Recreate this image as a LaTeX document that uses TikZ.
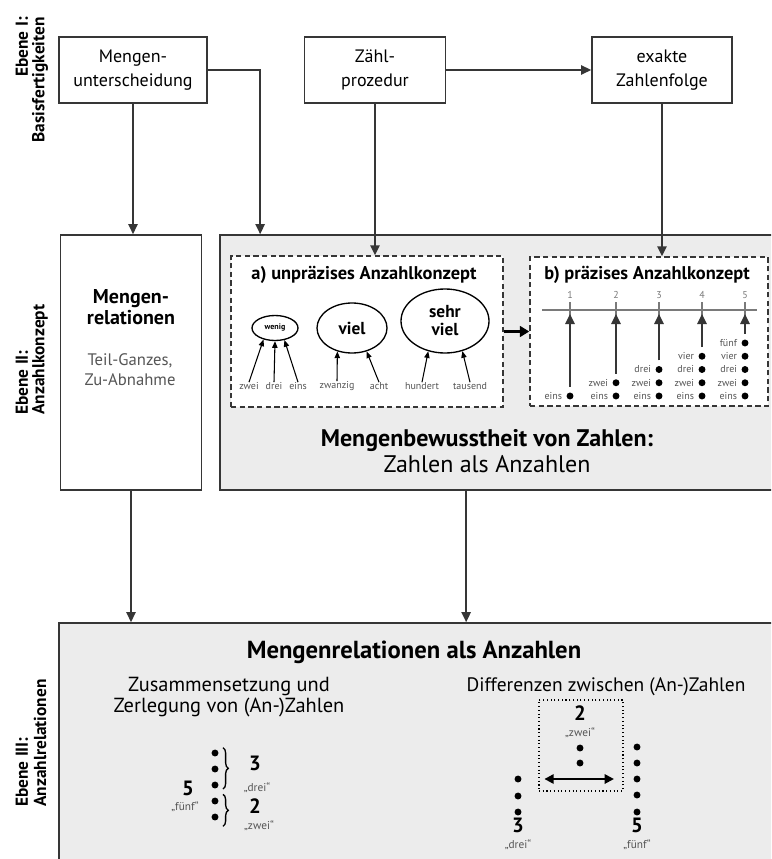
\documentclass[tikz,border=0pt]{standalone}
\usepackage{fontspec}
\setmainfont{PT Sans}
\usetikzlibrary{arrows.meta,shapes.geometric,decorations.pathreplacing}
\definecolor{boxLine}{HTML}{363636}
\definecolor{boxFill}{HTML}{ECECEC}
\definecolor{lblGray}{HTML}{555555}
\definecolor{axisGray}{HTML}{7A7A7A}
\newcommand{\fsz}[2]{\fontsize{#1}{#2}\selectfont}

\begin{document}
\begin{tikzpicture}[x=0.75pt,y=-0.75pt,
  every node/.style={inner sep=0pt},
  plainbox/.style={draw=boxLine,line width=1.3pt,fill=white,align=center,font=\fsz{13.5}{18.5}},
  graybox/.style={draw=boxLine,line width=1.3pt,fill=boxFill},
  dashbox/.style={draw=boxLine,line width=1.1pt,dash pattern=on 4pt off 2.5pt,fill=white},
  arr/.style={line width=1.2pt,draw=boxLine,-{Triangle[width=7pt,length=7.5pt]}},
  thickarr/.style={line width=2pt,draw=black,-{Triangle[width=8pt,length=7pt]}},
  smallarr/.style={line width=0.8pt,-{Triangle[width=4pt,length=5pt]}},
  dblarr/.style={line width=1.6pt,{Triangle[width=7pt,length=7pt]}-{Triangle[width=7pt,length=7pt]}},
  ebene/.style={rotate=90,font=\bfseries\fsz{13}{15}},
  oval/.style={ellipse,draw=black,line width=1pt,align=center},
  tinylbl/.style={font=\fsz{7.5}{9},text=lblGray},
  numlbl/.style={font=\fsz{7.5}{9},text=axisGray},
  dotlbl/.style={font=\fsz{7.5}{9},text=lblGray},
  dotmark/.style={circle,fill=black,minimum size=5.2pt},
  bignum/.style={font=\bfseries\fsz{15.5}{17}},
  quote/.style={font=\fsz{8.5}{9},text=lblGray},
  brace/.style={decorate,decoration={brace,amplitude=4pt},line width=1pt}]
  \useasboundingbox (0,0) rectangle (771,859);
  \clip (0,0) rectangle (771,859);

  % Ebene I
  \node[ebene,anchor=east] (e1a) at (22,17) {Ebene I:};
  \node[ebene,anchor=east] (e1b) at (40,17) {Basisfertigkeiten};
  \node[plainbox,minimum width=111pt,minimum height=49.5pt] (unters) at (133,70) {Mengen-\\unterscheidung};
  \node[plainbox,minimum width=105.75pt,minimum height=49.5pt] (zaehl) at (375,70) {Zähl-\\prozedur};
  \node[plainbox,minimum width=105pt,minimum height=49.5pt] (exakt) at (662,70) {exakte\\Zahlenfolge};

  % Ebene II
  \node[ebene,anchor=west] (e2a) at (22,415) {Ebene II:};
  \node[ebene,anchor=west] (e2b) at (40,415) {Anzahlkonzept};
  \node[plainbox,minimum width=105.75pt,minimum height=191.25pt] (relbox) at (131,362.5) {};
  \node[font=\bfseries\fsz{15}{15.5},align=center] (reltitel) at (131,307) {Mengen-\\relationen};
  \node[font=\fsz{12.5}{15},text=lblGray,align=center] (relsub) at (130,370) {Teil-Ganzes,\\Zu-Abnahme};

  \node[graybox,minimum width=435pt,minimum height=191.25pt] (konzbox) at (510,362.5) {};
  \node[dashbox,minimum width=204pt,minimum height=113.25pt] (boxa) at (367,331.5) {};
  \node[dashbox,minimum width=178.5pt,minimum height=111.75pt] (boxb) at (649,331.5) {};
  \node[font=\bfseries\fsz{13.8}{15}] (titela) at (364,275) {a) unpräzises Anzahlkonzept};
  \node[font=\bfseries\fsz{13.8}{15}] (titelb) at (647,275) {b) präzises Anzahlkonzept};

  \node[oval,minimum width=34.5pt,minimum height=18.75pt,font=\bfseries\fsz{6}{7}] (wenig) at (275,328) {wenig};
  \node[oval,minimum width=52.5pt,minimum height=37.5pt,font=\bfseries\fsz{13}{14}] (viel) at (352,328) {viel};
  \node[oval,minimum width=66pt,minimum height=48pt,font=\bfseries\fsz{13}{13.5}] (sehrviel) at (445,321) {sehr\\viel};
  \foreach \nm/\x/\txt in {zwei/249/zwei,drei/274/drei,eins/298/eins,zwanzig/337/zwanzig,
                           acht/379/acht,hundert/422/hundert,tausend/470/tausend}
    \node[tinylbl] (l\nm) at (\x,386) {\txt};
  \draw[smallarr] (lzwei.north) -- (wenig.225);
  \draw[smallarr] (ldrei.north) -- (wenig.270);
  \draw[smallarr] (leins.north) -- (wenig.308);
  \draw[smallarr] (lzwanzig.north) -- (viel.238);
  \draw[smallarr] (lacht.north) -- (viel.302);
  \draw[smallarr] (lhundert.north) -- (sehrviel.241);
  \draw[smallarr] (ltausend.north) -- (sehrviel.300);

  \draw[axisGray,line width=1.6pt] (542,310) -- (757,310);
  \foreach \x [count=\i] in {570,616,659,702,745} {
    \node[numlbl] (n\i) at (\x,295) {\i};
    \draw[axisGray,line width=1.2pt] (\x,302) -- (\x,318);
    \coordinate (t\i) at (\x,314);
    \foreach \w [count=\j] in {eins,zwei,drei,vier,fünf} {
      \ifnum\j>\i\relax\else
        \node[dotmark] (d\i-\j) at (\x,{396-13.25*(\j-1)}) {};
        \node[dotlbl,anchor=east] (w\i-\j) at ([xshift=-3pt]d\i-\j.west) {\w};
      \fi
    }
    \draw[arr] ([yshift=4pt]d\i-\i.north) -- (t\i);
  }

  \node[align=center,font=\fsz{18}{19}] (bewusst) at (487,451)
    {\textbf{Mengenbewusstheit von Zahlen:}\\Zahlen als Anzahlen};

  % Ebene III
  \node[ebene,anchor=west] (e3a) at (22,807) {Ebene III:};
  \node[ebene,anchor=west] (e3b) at (40,807) {Anzahlrelationen};
  \node[graybox,minimum width=555.75pt,minimum height=207.75pt] (unten) at (429.5,761.5) {};
  \node[font=\bfseries\fsz{18.5}{19}] (untentitel) at (414,652) {Mengenrelationen als Anzahlen};
  \node[align=center,font=\fsz{15.3}{16}] (zerleg) at (229,697) {Zusammensetzung und\\Zerlegung von (An-)Zahlen};
  \node[font=\fsz{14.6}{16}] (diff) at (606,687) {Differenzen zwischen (An-)Zahlen};

  \foreach \y [count=\k] in {753,769,785,801,817}
    \node[dotmark] (z\k) at (215,\y) {};
  \draw[brace] ([xshift=4pt,yshift=2pt]z1.north east) -- ([xshift=4pt,yshift=-1pt]z3.south east);
  \draw[brace] ([xshift=4pt,yshift=3pt]z4.north east) -- ([xshift=4pt,yshift=-5pt]z5.south east);
  \node[bignum] (drei) at (255,763) {3};
  \node[quote] (dreiq) at (257,788) {„drei“};
  \node[bignum] (zwei) at (255,806) {2};
  \node[quote] (zweiq) at (259,826) {„zwei“};
  \node[bignum] (fuenf) at (188,788) {5};
  \node[quote] (fuenfq) at (185,807) {„fünf“};

  \node[draw=black,dotted,line width=0.8pt,minimum width=63pt,minimum height=68.25pt] (diffbox) at (581,745.5) {};
  \node[bignum] (dzwei) at (580,713) {2};
  \node[quote] (dzweiq) at (580,733) {„zwei“};
  \node[dotmark] (dm1) at (580,748) {};
  \node[dotmark] (dm2) at (580,763) {};
  \foreach \y [count=\k] in {779,796,812}
    \node[dotmark] (dl\k) at (518,\y) {};
  \foreach \y [count=\k] in {747,763,779,795,812}
    \node[dotmark] (dr\k) at (637,\y) {};
  \node[bignum] (ddrei) at (518,825) {3};
  \node[quote] (ddreiq) at (518,845) {„drei“};
  \node[bignum] (dfuenf) at (637,825) {5};
  \node[quote] (dfuenfq) at (637,845) {„fünf“};
  \draw[dblarr,shorten <=17pt,shorten >=14.5pt] (dl1) -- (dr3);

  % Verbindungen
  \draw[arr] (unters.south) -- (unters.south |- relbox.north);
  \draw[arr] (unters.east) -| ([xshift=30.75pt]konzbox.north west);
  \draw[arr] (zaehl.east) -- (exakt.west);
  \draw[arr] (zaehl.south) -- (zaehl.south |- boxa.north);
  \draw[arr] (exakt.south) -- (exakt.south |- boxb.north);
  \draw[thickarr] (boxa.east) -- (boxb.west);
  \draw[arr] (relbox.south) -- (relbox.south |- unten.north);
  \draw[arr] ([xshift=185.25pt]konzbox.south west) -- ([xshift=185.25pt]konzbox.south west |- unten.north);
\end{tikzpicture}
\end{document}
